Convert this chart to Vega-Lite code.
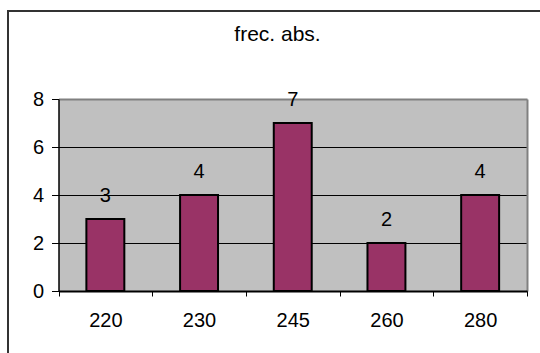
{
  "$schema": "https://vega.github.io/schema/vega-lite/v6.json",
  "autosize": {"type": "none"},
  "padding": {"left": 8, "top": 11, "right": 0, "bottom": 0},
  "width": 539,
  "height": 368,
  "background": "white",
  "title": {
    "text": "frec. abs.",
    "font": "Liberation Sans",
    "fontSize": 21,
    "fontWeight": "normal",
    "color": "#000000",
    "anchor": "middle",
    "frame": "group",
    "baseline": "alphabetic",
    "offset": -51
  },
  "config": {
    "view": {"stroke": "#333333", "strokeWidth": 2, "fill": "white"},
    "font": "Liberation Sans"
  },
  "data": {
    "values": [
      {"valor": "220", "frec": 3},
      {"valor": "230", "frec": 4},
      {"valor": "245", "frec": 7},
      {"valor": "260", "frec": 2},
      {"valor": "280", "frec": 4}
    ]
  },
  "encoding": {
    "x": {
      "field": "valor",
      "type": "nominal",
      "sort": null,
      "scale": {"range": [50.5, 519], "paddingInner": 0, "paddingOuter": 0},
      "axis": {
        "orient": "bottom",
        "offset": -88,
        "title": null,
        "labelAngle": 0,
        "labelFont": "Liberation Sans",
        "labelFontSize": 20,
        "labelColor": "#000000",
        "labelPadding": 14,
        "tickBand": "extent",
        "tickColor": "#000000",
        "tickSize": 5,
        "tickWidth": 1,
        "domainColor": "#000000",
        "domainWidth": 2,
        "grid": true,
        "gridColor": "#808080",
        "gridWidth": 2,
        "gridOpacity": {"condition": {"test": "datum.index === 1", "value": 1}, "value": 0},
        "zindex": 1
      }
    }
  },
  "layer": [
    {
      "mark": {"type": "bar", "fill": "#993366", "stroke": "#000000", "strokeWidth": 2, "width": {"band": 0.405}},
      "encoding": {
        "y": {
          "field": "frec",
          "type": "quantitative",
          "scale": {"domain": [0, 8], "range": [280, 88], "nice": false},
          "axis": {
            "orient": "left",
            "offset": -50.5,
            "values": [4],
            "title": null,
            "labels": false,
            "ticks": false,
            "domain": false,
            "grid": true,
            "gridColor": "#C0C0C0",
            "gridOpacity": 1,
            "gridWidth": 192,
            "zindex": 0
          }
        }
      }
    },
    {
      "mark": {"type": "text", "baseline": "middle", "dy": -23, "fontSize": 20, "font": "Liberation Sans", "color": "#000000"},
      "encoding": {
        "y": {
          "field": "frec",
          "type": "quantitative",
          "scale": {"domain": [0, 8], "range": [280, 88], "nice": false},
          "axis": {
            "orient": "left",
            "offset": -50.5,
            "values": [0, 2, 4, 6, 8],
            "title": null,
            "labelFont": "Liberation Sans",
            "labelFontSize": 20,
            "labelColor": "#000000",
            "labelPadding": 8,
            "tickColor": "#000000",
            "tickSize": 7,
            "tickWidth": 1,
            "domainColor": "#000000",
            "domainWidth": 1.5,
            "grid": true,
            "gridColor": {"condition": {"test": "datum.value === 8", "value": "#808080"}, "value": "#000000"},
            "gridWidth": {"condition": {"test": "datum.value === 8", "value": 2}, "value": 1},
            "zindex": 0
          }
        },
        "text": {"field": "frec", "type": "quantitative"}
      }
    }
  ],
  "resolve": {"axis": {"y": "independent"}}
}
